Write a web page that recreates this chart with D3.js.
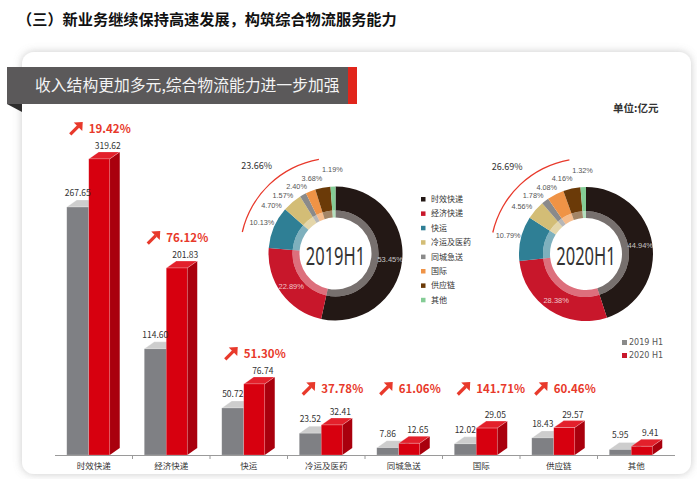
<!DOCTYPE html>
<html>
<head>
<meta charset="utf-8">
<script src="https://cdn.jsdelivr.net/npm/d3@7"></script>
<style>
  body { margin: 0; background: #fff; }
  svg { display: block; font-family: "Noto Sans CJK SC", "Noto Sans", sans-serif; }
</style>
</head>
<body>
<div id="chart"></div>
<script>
// data
var categories = ["时效快递", "经济快递", "快运", "冷运及医药", "同城急送", "国际", "供应链", "其他"];
var rev2019 = [267.65, 114.60, 50.72, 23.52, 7.86, 12.02, 18.43, 5.95];
var rev2020 = [319.62, 201.83, 76.74, 32.41, 12.65, 29.05, 29.57, 9.41];
var growth = ["19.42%", "76.12%", "51.30%", "37.78%", "61.06%", "141.71%", "60.46%", null];
var seriesNames = ["2019 H1", "2020 H1"];

var shareNames = ["时效快递", "经济快递", "快运", "冷运及医药", "同城急送", "国际", "供应链", "其他"];
var share2019 = [53.45, 22.89, 10.13, 4.70, 1.57, 2.40, 3.68, 1.19];
var share2020 = [44.94, 28.38, 10.79, 4.56, 1.78, 4.08, 4.16, 1.32];
var donutTitles = ["2019H1", "2020H1"];
var otherShare = ["23.66%", "26.69%"];

var shareColors = ["#231815", "#c8172b", "#2f7f95", "#d3bd76", "#8a8a8a", "#ef9346", "#6b3a08", "#84cc95"];

var W = 697, H = 479;
var svg = d3.select("#chart").append("svg")
    .attr("width", W)
    .attr("height", H);

var defs = svg.append("defs");
var shadow = defs.append("filter")
    .attr("id", "shadow")
    .attr("x", "-10%").attr("y", "-10%")
    .attr("width", "120%").attr("height", "120%");
shadow.append("feDropShadow")
    .attr("dx", 0).attr("dy", 0)
    .attr("stdDeviation", 4)
    .attr("flood-color", "#888")
    .attr("flood-opacity", 0.45);

// heading
svg.append("text")
    .attr("x", 17).attr("y", 25)
    .style("font-size", "15.2px")
    .style("font-weight", "bold")
    .style("fill", "#111")
    .text("（三）新业务继续保持高速发展，构筑综合物流服务能力");

// card
svg.append("rect")
    .attr("x", 22).attr("y", 52)
    .attr("width", 669).attr("height", 422)
    .attr("rx", 12)
    .style("fill", "#fff")
    .style("filter", "url(#shadow)");

// banner
svg.append("path")
    .attr("d", "M7,104 L22,104 L22,112 Z")
    .style("fill", "#2e2d2d");
svg.append("rect")
    .attr("x", 7).attr("y", 67)
    .attr("width", 341).attr("height", 37)
    .style("fill", "#5b595a");
svg.append("rect")
    .attr("x", 348).attr("y", 67)
    .attr("width", 9).attr("height", 37)
    .style("fill", "#e1251b");
svg.append("text")
    .attr("x", 35).attr("y", 91)
    .style("font-size", "15.8px")
    .style("fill", "#f4f4f4")
    .text("收入结构更加多元,综合物流能力进一步加强");

svg.append("text")
    .attr("x", 613).attr("y", 112)
    .style("font-size", "10.5px")
    .style("font-weight", "bold")
    .style("fill", "#333")
    .text("单位:亿元");

// ---------- bars ----------
var x = d3.scaleBand()
    .domain(categories)
    .range([55, 675]);

var y = d3.scaleLinear()
    .domain([0, 340])
    .range([455, 140]);

var depthX = 10, depthY = 7;

function bar3d(g, x0, w, yTop, front, top, side) {
  var base = y(0);
  g.append("path")
    .attr("d", "M" + (x0 + w) + "," + base + " L" + (x0 + w) + "," + yTop +
      " L" + (x0 + w + depthX) + "," + (yTop - depthY) +
      " L" + (x0 + w + depthX) + "," + (base - depthY) + " Z")
    .style("fill", side);
  g.append("path")
    .attr("d", "M" + x0 + "," + yTop + " L" + (x0 + depthX) + "," + (yTop - depthY) +
      " L" + (x0 + w + depthX) + "," + (yTop - depthY) + " L" + (x0 + w) + "," + yTop + " Z")
    .style("fill", top)
    .style("stroke", "rgba(255,255,255,0.45)")
    .style("stroke-width", 0.6);
  g.append("rect")
    .attr("x", x0).attr("y", yTop)
    .attr("width", w).attr("height", base - yTop)
    .style("fill", front)
    .style("stroke", "rgba(255,255,255,0.35)")
    .style("stroke-width", 0.6);
}

var barG = svg.append("g");

categories.forEach(function(c, i) {
  var xc = x(c) + x.bandwidth() / 2;
  var g = barG.append("g");
  var y19 = y(rev2019[i]), y20 = y(rev2020[i]);
  bar3d(g, xc - 27, 22, y19, "#7f8084", "#cdcdcd", "#6a6b6e");
  bar3d(g, xc - 5, 21, y20, "#d7000f", "#e3202b", "#a9000d");

  g.append("text")
    .attr("x", xc - 16).attr("y", y19 - depthY - 4)
    .attr("text-anchor", "middle")
    .style("font-size", "8.5px")
    .style("fill", "#333")
    .text(rev2019[i].toFixed(2));
  g.append("text")
    .attr("x", xc + 14).attr("y", y20 - depthY - 3)
    .attr("text-anchor", "middle")
    .style("font-size", "8.5px")
    .style("fill", "#333")
    .text(rev2020[i].toFixed(2));

  if (growth[i]) {
    var gy = Math.min(y20 - 30, 389);
    var ag = g.append("g")
      .attr("transform", "translate(" + (xc - 25) + "," + (gy - 7) + ")");
    ag.append("line")
      .attr("x1", 1.5).attr("y1", 12.5)
      .attr("x2", 9.5).attr("y2", 4.5)
      .style("stroke", "#e8392b")
      .style("stroke-width", 3.2);
    ag.append("path")
      .attr("d", "M5,0.5 L14,0 L13.5,9 Z")
      .style("fill", "#e8392b");
    g.append("text")
      .attr("x", xc - 5).attr("y", gy + 4)
      .style("font-size", "11.5px")
      .style("font-weight", "bold")
      .style("fill", "#e8392b")
      .text(growth[i]);
  }
});

// axis
var axisG = svg.append("g");
axisG.append("line")
    .attr("x1", x.range()[0]).attr("x2", x.range()[1])
    .attr("y1", y(0) + 0.5).attr("y2", y(0) + 0.5)
    .style("stroke", "#9a9a9a")
    .style("stroke-width", 1);
axisG.selectAll(".tk")
    .data(categories.slice(1))
    .enter().append("line")
    .attr("x1", function(d) { return x(d); })
    .attr("x2", function(d) { return x(d); })
    .attr("y1", y(0)).attr("y2", y(0) + 4)
    .style("stroke", "#9a9a9a");
axisG.selectAll(".cat")
    .data(categories)
    .enter().append("text")
    .attr("x", function(d) { return x(d) + x.bandwidth() / 2; })
    .attr("y", 469)
    .attr("text-anchor", "middle")
    .style("font-size", "8.5px")
    .style("fill", "#333")
    .text(function(d) { return d; });

// bar legend
var barLegend = svg.append("g").attr("transform", "translate(622,340)");
[ "#8a8a8a", "#c8172b" ].forEach(function(col, i) {
  barLegend.append("rect")
    .attr("x", 0).attr("y", i * 13)
    .attr("width", 5).attr("height", 5)
    .style("fill", col);
  barLegend.append("text")
    .attr("x", 7).attr("y", i * 13 + 5)
    .style("font-size", "8px")
    .style("fill", "#555")
    .style("font-family", "'DejaVu Sans', sans-serif")
    .text(seriesNames[i]);
});

// ---------- donuts ----------
var deg = Math.PI / 180;
var pie = d3.pie().sort(null).value(function(d) { return d; });
var arcMain = d3.arc().innerRadius(43).outerRadius(67);
var arcInner = d3.arc().innerRadius(36).outerRadius(43);
var arcInLabel = d3.arc().innerRadius(55).outerRadius(55);
var arcDeco = d3.arc().innerRadius(95).outerRadius(96.3)
    .startAngle(-77 * deg).endAngle(-10 * deg);
var arcSum = d3.arc().innerRadius(118).outerRadius(118)
    .startAngle(-42 * deg).endAngle(-42 * deg);

function donut(cx, cy, vals, k) {
  var g = svg.append("g").attr("transform", "translate(" + cx + "," + cy + ")");
  var arcs = pie(vals);
  g.selectAll(".m").data(arcs).enter().append("path")
    .attr("d", arcMain)
    .style("fill", function(d, i) { return shareColors[i]; });
  g.selectAll(".n").data(arcs).enter().append("path")
    .attr("d", arcInner)
    .style("fill", function(d, i) { return shareColors[i]; })
    .style("opacity", 0.62);

  g.append("text")
    .attr("transform", "translate(0,1) scale(0.66,1)")
    .attr("text-anchor", "middle")
    .attr("dominant-baseline", "central")
    .style("font-size", "25px")
    .style("font-family", "'Noto Sans', sans-serif")
    .style("fill", "#333")
    .text(donutTitles[k]);

  // inside labels for the two big slices
  arcs.slice(0, 2).forEach(function(a, i) {
    var p = arcInLabel.centroid(a);
    g.append("text")
      .attr("x", p[0]).attr("y", p[1])
      .attr("text-anchor", "middle")
      .attr("dominant-baseline", "central")
      .style("font-size", "7.5px")
      .style("font-family", "'Liberation Sans', sans-serif")
      .style("fill", "rgba(255,255,255,0.75)")
      .text(vals[i].toFixed(2) + "%");
  });

  // outside labels: mid angle, spread apart so they do not collide
  var nextAng = Infinity, nextY = -Infinity;
  for (var i = arcs.length - 1; i >= 2; i--) {
    var a = arcs[i];
    var mid = (a.startAngle + a.endAngle) / 2 - 2 * Math.PI;
    var last = (i === arcs.length - 1);
    var ang = Math.min(mid, nextAng - (nextAng - mid < 20 * deg && i === arcs.length - 2 ? 15 : 12) * deg);
    if (last) ang = mid;
    var r = last ? 84 : 80;
    var q = d3.arc().innerRadius(r).outerRadius(r).startAngle(ang).endAngle(ang).centroid();
    var ly = Math.max(q[1], nextY + 8.5);
    nextAng = ang; nextY = ly;
    g.append("text")
      .attr("x", q[0]).attr("y", ly)
      .attr("text-anchor", "middle")
      .attr("dominant-baseline", "central")
      .style("font-size", "7.3px")
      .style("font-family", "'Liberation Sans', sans-serif")
      .style("fill", "#555")
      .text(vals[i].toFixed(2) + "%");
  }

  g.append("path")
    .attr("d", arcDeco)
    .style("fill", "#e8392b");
  var s = arcSum.centroid();
  g.append("text")
    .attr("x", s[0]).attr("y", s[1])
    .attr("text-anchor", "middle")
    .attr("dominant-baseline", "central")
    .style("font-size", "9px")
    .style("fill", "#333")
    .text(otherShare[k]);
}

donut(335.5, 253.5, share2019, 0);
donut(586, 254, share2020, 1);

// donut legend
var dl = svg.append("g").attr("transform", "translate(421,197)");
shareNames.forEach(function(n, i) {
  dl.append("rect")
    .attr("x", 0).attr("y", i * 14.4)
    .attr("width", 4.5).attr("height", 4.5)
    .style("fill", shareColors[i]);
  dl.append("text")
    .attr("x", 10).attr("y", i * 14.4 + 5)
    .style("font-size", "8px")
    .style("fill", "#333")
    .text(n);
});
</script>
</body>
</html>
